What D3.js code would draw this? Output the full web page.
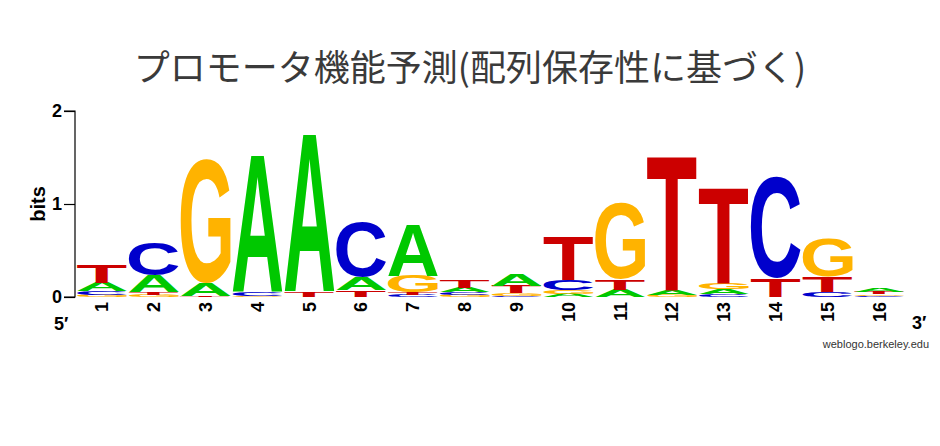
<!DOCTYPE html>
<html>
<head>
<meta charset="utf-8">
<script src="https://cdn.jsdelivr.net/npm/d3@7"></script>
<style>
  html, body { margin: 0; padding: 0; background: #fff; }
  svg { display: block; }
</style>
</head>
<body>
<svg id="chart" width="940" height="446"></svg>
<script>
// ---- data ----
const positions = ["1","2","3","4","5","6","7","8","9","10","11","12","13","14","15","16"];
const bases = ["A","C","G","T"];
// information content (bits) per base at each position
const heightA = [0.090, 0.180, 0.140, 1.475, 1.710, 0.140, 0.560, 0.050, 0.120, 0.035, 0.080, 0.060, 0.055, 0.000, 0.000, 0.045];
const heightC = [0.040, 0.360, 0.005, 0.040, 0.000, 0.600, 0.025, 0.030, 0.010, 0.110, 0.000, 0.000, 0.030, 1.090, 0.050, 0.015];
const heightG = [0.025, 0.020, 1.330, 0.015, 0.000, 0.000, 0.180, 0.020, 0.030, 0.035, 0.820, 0.020, 0.070, 0.000, 0.410, 0.015];
const heightT = [0.200, 0.030, 0.005, 0.000, 0.060, 0.075, 0.025, 0.080, 0.080, 0.470, 0.110, 1.450, 1.030, 0.200, 0.170, 0.025];
const yTicks = [0, 1, 2];
const titleText = "プロモータ機能予測(配列保存性に基づく)";

const colors = { A: "#00c800", C: "#0000cc", G: "#ffb300", T: "#cc0000" };

const svg = d3.select("#chart");

// scales
const x = d3.scaleBand().domain(positions).range([75.5, 906]).paddingInner(0.035).paddingOuter(0.03);
const y = d3.scaleLinear().domain([0, 2]).range([297, 111]);

// title
svg.append("text")
  .attr("x", 470).attr("y", 81)
  .attr("text-anchor", "middle")
  .attr("font-family", "'Noto Sans CJK JP', 'Noto Sans', sans-serif")
  .attr("font-size", 36)
  .attr("fill", "#3a3a3a")
  .text(titleText);

// glyph metrics via canvas
const ctx = document.createElement("canvas").getContext("2d");
const FONT = "bold 100px 'Liberation Sans', Arial, sans-serif";
ctx.font = FONT;
const metrics = {};
bases.forEach(b => {
  const m = ctx.measureText(b);
  metrics[b] = { L: m.actualBoundingBoxLeft, R: m.actualBoundingBoxRight, A: m.actualBoundingBoxAscent, D: m.actualBoundingBoxDescent };
});

// build stacks
const columns = positions.map((p, i) => {
  const items = [
    { base: "A", h: heightA[i] },
    { base: "C", h: heightC[i] },
    { base: "G", h: heightG[i] },
    { base: "T", h: heightT[i] }
  ].filter(d => d.h > 0).sort((a, b) => a.h - b.h);
  let acc = 0;
  items.forEach(d => { d.y0 = acc; acc += d.h; d.y1 = acc; });
  return { pos: p, items };
});

const gLogo = svg.append("g");
columns.forEach(col => {
  const x0 = x(col.pos), w = x.bandwidth();
  col.items.forEach(d => {
    const top = y(d.y1), bot = y(d.y0);
    const h = bot - top;
    if (h <= 0) return;
    const m = metrics[d.base];
    const sx = w / (m.L + m.R), sy = h / (m.A + m.D);
    gLogo.append("text")
      .attr("font-family", "'Liberation Sans', Arial, sans-serif")
      .attr("font-weight", "bold")
      .attr("font-size", 100)
      .attr("fill", colors[d.base])
      .attr("transform", `translate(${x0 + m.L * sx},${top + m.A * sy}) scale(${sx},${sy})`)
      .text(d.base);
  });
});

// y axis
const yAxis = d3.axisLeft(y).tickValues(yTicks).tickFormat(d3.format("d")).tickSize(11).tickPadding(2);
const gy = svg.append("g").attr("transform", "translate(75,0)").call(yAxis);
gy.select(".domain").attr("stroke", "#000").attr("stroke-width", 1.2).attr("d", `M-11,${y(2)}H0V${y(0)}H-11`);
gy.selectAll(".tick line").attr("stroke", "#000").attr("stroke-width", 1.2);
gy.selectAll(".tick text")
  .attr("font-family", "'Liberation Sans', Arial, sans-serif")
  .attr("font-weight", "bold").attr("font-size", 18).attr("fill", "#000");

svg.append("text")
  .attr("transform", `translate(45,${y(1)}) rotate(-90)`)
  .attr("text-anchor", "middle")
  .attr("font-family", "'Liberation Sans', Arial, sans-serif")
  .attr("font-weight", "bold").attr("font-size", 20)
  .text("bits");

// x labels
const xAxis = d3.axisBottom(x).tickSize(0).tickPadding(0);
const gx = svg.append("g").attr("transform", "translate(0,297)").call(xAxis);
gx.select(".domain").remove();
gx.selectAll(".tick text")
  .attr("transform", "translate(0,5) rotate(-90)")
  .attr("text-anchor", "end")
  .attr("x", 0).attr("y", 0).attr("dy", "0.35em")
  .attr("font-family", "'Liberation Sans', Arial, sans-serif")
  .attr("font-weight", "bold").attr("font-size", 18).attr("fill", "#000");

svg.append("text").attr("x", 54).attr("y", 330)
  .attr("font-family", "'Liberation Sans', Arial, sans-serif")
  .attr("font-weight", "bold").attr("font-size", 18).text("5′");
svg.append("text").attr("x", 912).attr("y", 329)
  .attr("font-family", "'Liberation Sans', Arial, sans-serif")
  .attr("font-weight", "bold").attr("font-size", 18).text("3′");
svg.append("text").attr("x", 929).attr("y", 348)
  .attr("text-anchor", "end")
  .attr("font-family", "'Liberation Sans', Arial, sans-serif")
  .attr("font-size", 11).attr("fill", "#333").text("weblogo.berkeley.edu");
</script>
</body>
</html>
